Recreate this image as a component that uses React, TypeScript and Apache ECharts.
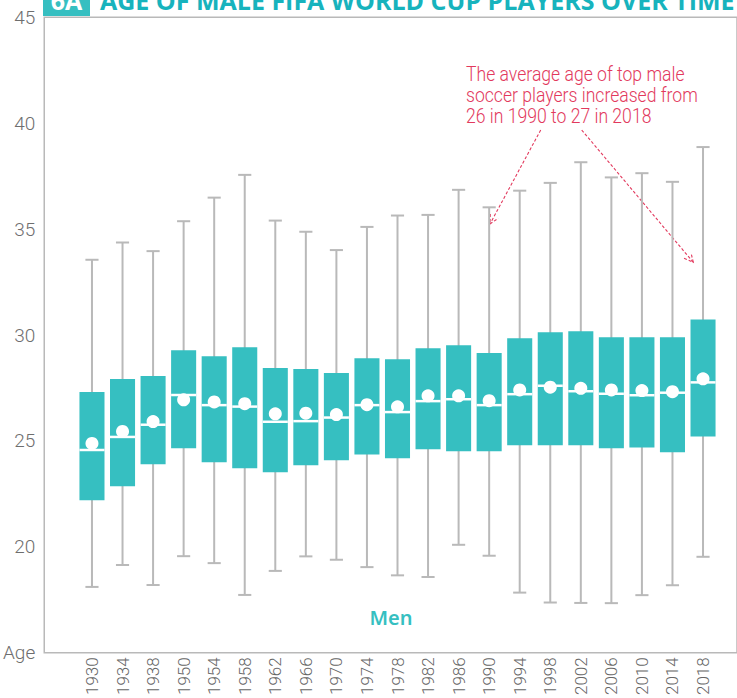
import React, { useEffect, useRef } from 'react';
import * as echarts from 'echarts';

const years = ['1930', '1934', '1938', '1950', '1954', '1958', '1962', '1966', '1970', '1974', '1978', '1982', '1986', '1990', '1994', '1998', '2002', '2006', '2010', '2014', '2018'];
const whiskerHigh = [33.49, 34.31, 33.9, 35.32, 36.44, 37.52, 35.35, 34.82, 33.95, 35.05, 35.59, 35.62, 36.81, 35.98, 36.77, 37.14, 38.12, 37.4, 37.6, 37.19, 38.84];
const quartile3 = [27.21, 27.83, 27.97, 29.2, 28.91, 29.34, 28.35, 28.3, 28.11, 28.82, 28.77, 29.29, 29.43, 29.06, 29.76, 30.05, 30.1, 29.81, 29.81, 29.81, 30.66];
const medians = [24.46, 25.08, 25.66, 27.07, 26.59, 26.52, 25.8, 25.83, 26.0, 26.59, 26.26, 26.78, 26.87, 26.59, 27.11, 27.51, 27.25, 27.13, 27.06, 27.18, 27.67];
const quartile1 = [22.08, 22.74, 23.78, 24.54, 23.88, 23.59, 23.4, 23.73, 23.97, 24.25, 24.07, 24.49, 24.4, 24.4, 24.68, 24.68, 24.68, 24.54, 24.58, 24.35, 25.1];
const whiskerLow = [17.96, 19.0, 18.05, 19.42, 19.09, 17.58, 18.72, 19.41, 19.25, 18.9, 18.51, 18.43, 19.96, 19.44, 17.69, 17.22, 17.2, 17.19, 17.57, 18.04, 19.39];
const means = [24.77, 25.34, 25.81, 26.84, 26.74, 26.66, 26.18, 26.21, 26.14, 26.61, 26.51, 27.03, 27.03, 26.8, 27.31, 27.44, 27.39, 27.31, 27.28, 27.23, 27.84];

const yMin = 15;
const yMax = 45;
const yStep = 5;
const bottomLabel = 'Age';

const titleTag = '6A';
const titleText = 'AGE OF MALE FIFA WORLD CUP PLAYERS OVER TIME';
const annotationLines = ['The average age of top male', 'soccer players increased from', '26 in 1990 to 27 in 2018'];
const seriesLabel = 'Men';

const TEAL = '#36BFC1';
const TITLE_TEAL = '#17B3BD';
const GRAY = '#b9b9b9';
const RED = '#E2395D';

function arrow(x1: number, y1: number, x2: number, y2: number) {
  const dx = x2 - x1, dy = y2 - y1;
  const len = Math.sqrt(dx * dx + dy * dy);
  const ux = dx / len, uy = dy / len;
  const bx = x2 - ux * 9, by = y2 - uy * 9;
  const px = -uy * 4.5, py = ux * 4.5;
  const style = { stroke: RED, lineWidth: 1.1, lineDash: [3, 2], fill: null };
  return [
    { type: 'line', shape: { x1, y1, x2, y2 }, style, silent: true },
    { type: 'polyline', shape: { points: [[bx + px, by + py], [x2, y2], [bx - px, by - py]] }, style, silent: true },
  ];
}

export default function App() {
  const ref = useRef<HTMLDivElement>(null);
  useEffect(() => {
    document.body.style.margin = '0';
    const chart = echarts.init(ref.current!, null, { renderer: 'svg' });
    const boxData = years.map((_, i) => [i, whiskerLow[i], quartile1[i], medians[i], quartile3[i], whiskerHigh[i]]);
    const meanData = years.map((_, i) => [i, means[i]]);
    chart.setOption({
      animation: false,
      backgroundColor: '#fff',
      grid: [
        { left: 76.7, right: 18.7, top: 17.3, bottom: 45.3 },
        { left: 43, right: -5, top: 17.3, bottom: 45.3, show: true, borderColor: GRAY, borderWidth: 1.5, backgroundColor: 'transparent' },
      ],
      xAxis: [
        {
          type: 'category',
          gridIndex: 0,
          data: years,
          boundaryGap: true,
          axisLine: { show: false },
          axisTick: { show: false },
          axisLabel: { rotate: 90, margin: 8, fontFamily: 'Roboto', fontWeight: 300, fontSize: 17, color: '#666666', interval: 0 },
          splitLine: { show: false },
        },
        { type: 'value', gridIndex: 1, show: false, min: 0, max: 1 },
      ],
      yAxis: [
        { type: 'value', gridIndex: 0, min: yMin, max: yMax, interval: yStep, show: false },
        {
          type: 'value',
          gridIndex: 1,
          min: yMin,
          max: yMax,
          interval: yStep,
          axisLine: { show: false },
          axisTick: { show: false },
          splitLine: { show: false },
          axisLabel: {
            margin: 9,
            fontFamily: 'Roboto',
            fontWeight: 300,
            fontSize: 19,
            color: '#6e6e6e',
            padding: [4, 0, 0, 0],
            formatter: (v: number) => (v === yMin ? bottomLabel : String(v)),
          },
        },
      ],
      series: [
        {
          type: 'custom',
          xAxisIndex: 0,
          yAxisIndex: 0,
          z: 2,
          encode: { x: 0, y: [1, 2, 3, 4, 5] },
          data: boxData,
          renderItem: (params: any, api: any) => {
            const i = api.value(0);
            const lo = api.coord([i, api.value(1)]);
            const q1 = api.coord([i, api.value(2)]);
            const md = api.coord([i, api.value(3)]);
            const q3 = api.coord([i, api.value(4)]);
            const hi = api.coord([i, api.value(5)]);
            const band = api.size([1, 0])[0];
            const bw = band * 0.82;
            const cw = band * 0.43;
            const x = hi[0];
            const ws = { stroke: GRAY, lineWidth: 2 };
            return {
              type: 'group',
              children: [
                { type: 'line', shape: { x1: x, y1: hi[1], x2: x, y2: lo[1] }, style: ws },
                { type: 'line', shape: { x1: x - cw / 2, y1: hi[1], x2: x + cw / 2, y2: hi[1] }, style: ws },
                { type: 'line', shape: { x1: x - cw / 2, y1: lo[1], x2: x + cw / 2, y2: lo[1] }, style: ws },
                { type: 'rect', shape: { x: x - bw / 2, y: q3[1], width: bw, height: q1[1] - q3[1] }, style: { fill: TEAL } },
                { type: 'line', shape: { x1: x - bw / 2, y1: md[1], x2: x + bw / 2, y2: md[1] }, style: { stroke: '#ffffff', lineWidth: 2.5 } },
              ],
            };
          },
        },
        {
          type: 'scatter',
          xAxisIndex: 0,
          yAxisIndex: 0,
          z: 3,
          symbol: 'circle',
          symbolSize: 13,
          itemStyle: { color: '#ffffff', opacity: 1 },
          data: meanData,
        },
      ],
      graphic: [
        { type: 'rect', shape: { x: 43, y: -20, width: 47, height: 36 }, style: { fill: TEAL }, silent: true },
        { type: 'text', x: 66.5, y: 0, style: { text: titleTag, fill: '#ffffff', font: 'bold 25px "Open Sans"', align: 'center', verticalAlign: 'middle' }, silent: true },
        { type: 'text', x: 100, y: 0, style: { text: titleText, fill: TITLE_TEAL, font: 'bold 25px "Open Sans"', align: 'left', verticalAlign: 'middle' }, silent: true },
        { type: 'text', x: 466, y: 64.5, scaleX: 0.88, style: { text: annotationLines.join('\n'), fill: RED, font: '300 20px Roboto', lineHeight: 21, align: 'left', verticalAlign: 'top' }, silent: true },
        ...arrow(540.7, 130, 490, 224),
        ...arrow(581.7, 130, 693.3, 262.3),
        { type: 'text', x: 391, y: 617, style: { text: seriesLabel, fill: TEAL, font: '600 20px "Noto Sans"', align: 'center', verticalAlign: 'middle' }, silent: true },
      ],
    });
    return () => chart.dispose();
  }, []);
  return <div ref={ref} style={{ width: 737, height: 698, overflow: 'hidden' }} />;
}
